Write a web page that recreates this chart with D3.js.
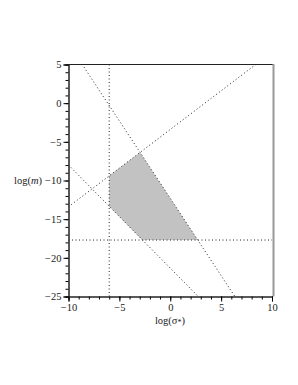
<!DOCTYPE html>
<html>
<head>
<meta charset="utf-8">
<script src="https://cdn.jsdelivr.net/npm/d3@7"></script>
<style>
  body { margin: 0; background: #fff; }
  text { font-family: "Liberation Serif", "DejaVu Serif", serif; }
</style>
</head>
<body>
<div id="chart"></div>
<script>
// axis ranges and ticks
var xDomain = [-10, 10];
var yDomain = [-25, 5];
var xTicks = [-10, -5, 0, 5, 10];
var yTicks = [5, 0, -5, -10, -15, -20, -25];

// constraint lines, y = slope * x + icept
var lineSlopes = [-2, 1, -4 / 3];
var lineIcepts = [-12.3, -3.4, -21.33];
var vLineX = -6;
var hLineY = -17.7;

// allowed region corners (x, y)
var regionX = [-6, -2.97, 2.7, -2.75, -6];
var regionY = [-9.4, -6.37, -17.7, -17.7, -13.33];

var margin = {top: 64.5, left: 68.5},
    width = 203.5,
    height = 232;

var svg = d3.select("#chart")
  .append("svg")
    .attr("width", 298)
    .attr("height", 385);

var g = svg.append("g")
    .attr("transform", "translate(" + margin.left + "," + margin.top + ")");

var x = d3.scaleLinear().domain(xDomain).range([0, width]);
var y = d3.scaleLinear().domain(yDomain).range([height, 0]);

// shaded region
g.append("polygon")
  .attr("points", regionX.map(function(d, i) { return x(d) + "," + y(regionY[i]); }).join(" "))
  .attr("fill", "#c2c2c2");

// clip lines to the frame
svg.append("clipPath").attr("id", "clip")
  .append("rect").attr("width", width).attr("height", height);

var lines = g.append("g").attr("clip-path", "url(#clip)");
var dotted = function(sel) {
  sel.attr("stroke", "#222").attr("stroke-width", 1)
     .attr("stroke-dasharray", "1,2.5").attr("fill", "none");
};

lineSlopes.forEach(function(s, i) {
  lines.append("line")
    .attr("x1", x(-10)).attr("y1", y(s * -10 + lineIcepts[i]))
    .attr("x2", x(10)).attr("y2", y(s * 10 + lineIcepts[i]))
    .call(dotted);
});
lines.append("line")
  .attr("x1", x(vLineX)).attr("x2", x(vLineX))
  .attr("y1", y(-25)).attr("y2", y(5))
  .call(dotted);
lines.append("line")
  .attr("x1", x(-10)).attr("x2", x(10))
  .attr("y1", y(hLineY)).attr("y2", y(hLineY))
  .call(dotted);

// frame: top black, right grey
g.append("line").attr("x1", 0).attr("x2", width + 1).attr("y1", 0).attr("y2", 0)
  .attr("stroke", "#222").attr("stroke-width", 1.2);
g.append("line").attr("x1", width + 1.5).attr("x2", width + 1.5).attr("y1", -0.5).attr("y2", height)
  .attr("stroke", "#999").attr("stroke-width", 2);

var fmt = function(d) { return d < 0 ? "\u2212" + (-d) : d; };

// x axis: minor ticks every unit, major every 5
var xAxis = g.append("g").attr("transform", "translate(0," + height + ")");
xAxis.call(d3.axisBottom(x).tickValues(d3.range(-10, 11, 1)).tickSize(3).tickFormat(""));
xAxis.append("g").call(d3.axisBottom(x).tickValues(xTicks).tickSize(5).tickPadding(2).tickFormat(fmt));
xAxis.selectAll(".domain").attr("stroke", "#222");
xAxis.selectAll("text").attr("font-size", 10.5).attr("fill", "#222");

var yAxis = g.append("g");
yAxis.call(d3.axisLeft(y).tickValues(d3.range(-25, 6, 1)).tickSize(3).tickFormat(""));
yAxis.append("g").call(d3.axisLeft(y).tickValues(yTicks).tickSize(5).tickPadding(2).tickFormat(fmt));
yAxis.selectAll(".domain").attr("stroke", "#222");
yAxis.selectAll("text").attr("font-size", 10.5).attr("fill", "#222");

// axis labels
var yl = svg.append("text").attr("x", 14).attr("y", 184).attr("font-size", 10.5).attr("fill", "#222");
yl.append("tspan").text("log(");
yl.append("tspan").attr("font-style", "italic").text("m");
yl.append("tspan").text(")");

var xl = svg.append("text").attr("x", 170).attr("y", 324).attr("text-anchor", "middle")
  .attr("font-size", 10.5).attr("fill", "#222");
xl.append("tspan").text("log(\u03c3");
xl.append("tspan").attr("font-size", 8).attr("dy", 1).text("*");
xl.append("tspan").attr("dy", -1).text(")");
</script>
</body>
</html>
